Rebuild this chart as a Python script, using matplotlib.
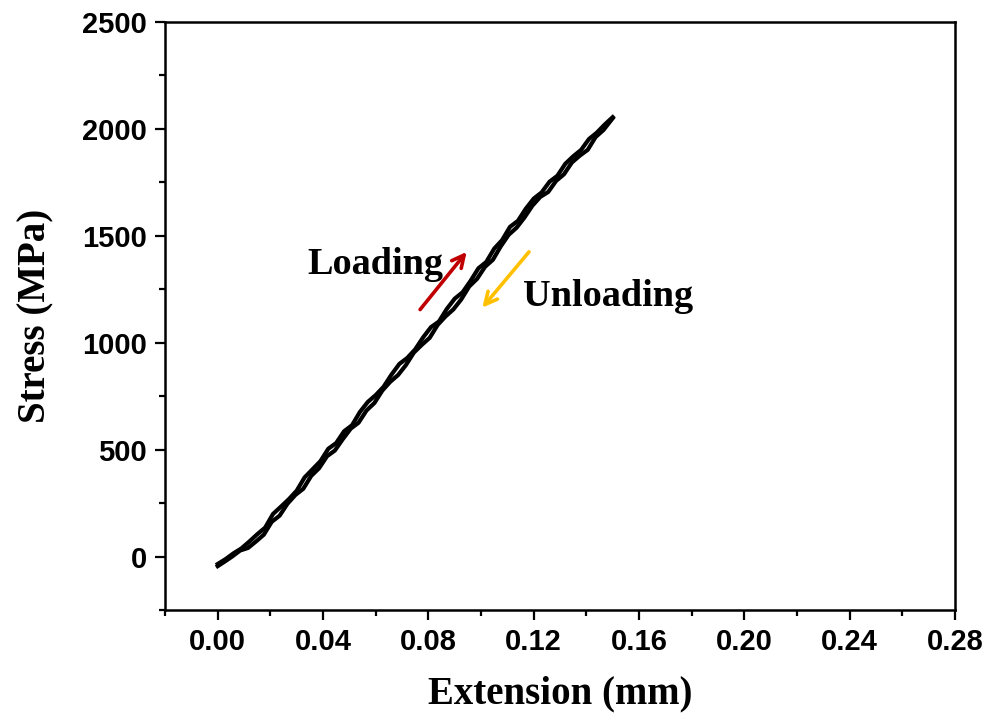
import numpy as np
import matplotlib
matplotlib.use('Agg')
import matplotlib.pyplot as plt
from matplotlib.ticker import MultipleLocator

# 加载曲线 (mm, MPa)
load_x = [0.000, 0.003, 0.006, 0.009, 0.012, 0.015, 0.018, 0.021, 0.024, 0.027,
          0.030, 0.033, 0.036, 0.039, 0.042, 0.045, 0.048, 0.051, 0.054, 0.057,
          0.060, 0.063, 0.066, 0.069, 0.072, 0.075, 0.078, 0.081, 0.084, 0.087,
          0.090, 0.093, 0.096, 0.099, 0.102, 0.105, 0.108, 0.111, 0.114, 0.117,
          0.120, 0.123, 0.126, 0.129, 0.132, 0.135, 0.138, 0.141, 0.144, 0.147, 0.150]
load_y = [-35, -12, 15, 38, 70, 104, 135, 199, 233, 268,
          308, 370, 408, 446, 504, 531, 586, 614, 676, 723,
          755, 794, 851, 901, 929, 969, 1025, 1073, 1099, 1158,
          1206, 1236, 1289, 1348, 1378, 1440, 1480, 1542, 1570, 1627,
          1674, 1703, 1753, 1781, 1837, 1872, 1902, 1953, 1983, 2021, 2055]

# 卸载曲线
unload_x = [0.1500, 0.1465, 0.1435, 0.1405, 0.1375, 0.1345, 0.1315, 0.1285, 0.1255, 0.1225,
            0.1195, 0.1165, 0.1135, 0.1105, 0.1075, 0.1045, 0.1015, 0.0985, 0.0955, 0.0925,
            0.0895, 0.0865, 0.0835, 0.0805, 0.0775, 0.0745, 0.0715, 0.0685, 0.0655, 0.0625,
            0.0595, 0.0565, 0.0535, 0.0505, 0.0475, 0.0445, 0.0415, 0.0385, 0.0355, 0.0325,
            0.0295, 0.0265, 0.0235, 0.0205, 0.0175, 0.0145, 0.0115, 0.0085, 0.0055, 0.0025, 0.0000]
unload_y = [2050, 1995, 1962, 1902, 1875, 1843, 1788, 1757, 1705, 1682,
            1641, 1586, 1538, 1505, 1451, 1388, 1355, 1299, 1263, 1203,
            1156, 1123, 1083, 1023, 990, 954, 896, 849, 817, 776,
            718, 683, 626, 598, 549, 496, 469, 413, 377, 317,
            288, 247, 191, 162, 102, 70, 40, 28, 0, -25, -45]

serif = 'Liberation Serif'
sans = 'Liberation Sans'

fig = plt.figure(figsize=(9.9, 7.13), dpi=100)
ax = fig.add_axes([0.1667, 0.1445, 0.798, 0.8246])

ax.plot(load_x, load_y, color='black', lw=3.0)
ax.plot(unload_x, unload_y, color='black', lw=3.0)

ax.set_xlim(-0.02, 0.28)
ax.set_ylim(-250, 2500)
ax.xaxis.set_minor_locator(MultipleLocator(0.02))
ax.yaxis.set_major_locator(MultipleLocator(500))
ax.yaxis.set_minor_locator(MultipleLocator(250))
xt = np.arange(0, 0.281, 0.04)
ax.set_xticks(xt)
ax.set_xticklabels([f'{v:.2f}' for v in xt])

for s in ax.spines.values():
    s.set_linewidth(1.8)
ax.tick_params(which='major', direction='out', length=7, width=1.6, pad=6)
ax.tick_params(which='minor', direction='out', length=4, width=1.6)
for lab in ax.get_xticklabels() + ax.get_yticklabels():
    lab.set_fontfamily(sans)
    lab.set_fontweight('bold')
    lab.set_fontsize(21)

ax.set_xlabel('Extension (mm)', fontfamily=serif, fontweight='bold', fontsize=28, labelpad=14)
ax.set_ylabel('Stress (MPa)', fontfamily=serif, fontweight='bold', fontsize=28, labelpad=20)

# 箭头
ax.annotate('', xy=(0.0952, 1435), xytext=(0.0762, 1145),
            arrowprops=dict(arrowstyle='->', color='#C00000', lw=2.6, mutation_scale=22))
ax.annotate('', xy=(0.0998, 1154), xytext=(0.1189, 1435),
            arrowprops=dict(arrowstyle='->', color='#FFC000', lw=2.6, mutation_scale=22))

ax.text(0.0598, 1364, 'Loading', fontfamily=serif, fontweight='bold', fontsize=27.5,
        ha='center', va='center')
ax.text(0.1482, 1215, 'Unloading', fontfamily=serif, fontweight='bold', fontsize=27.5,
        ha='center', va='center')

fig.savefig('out.png', dpi=100)
